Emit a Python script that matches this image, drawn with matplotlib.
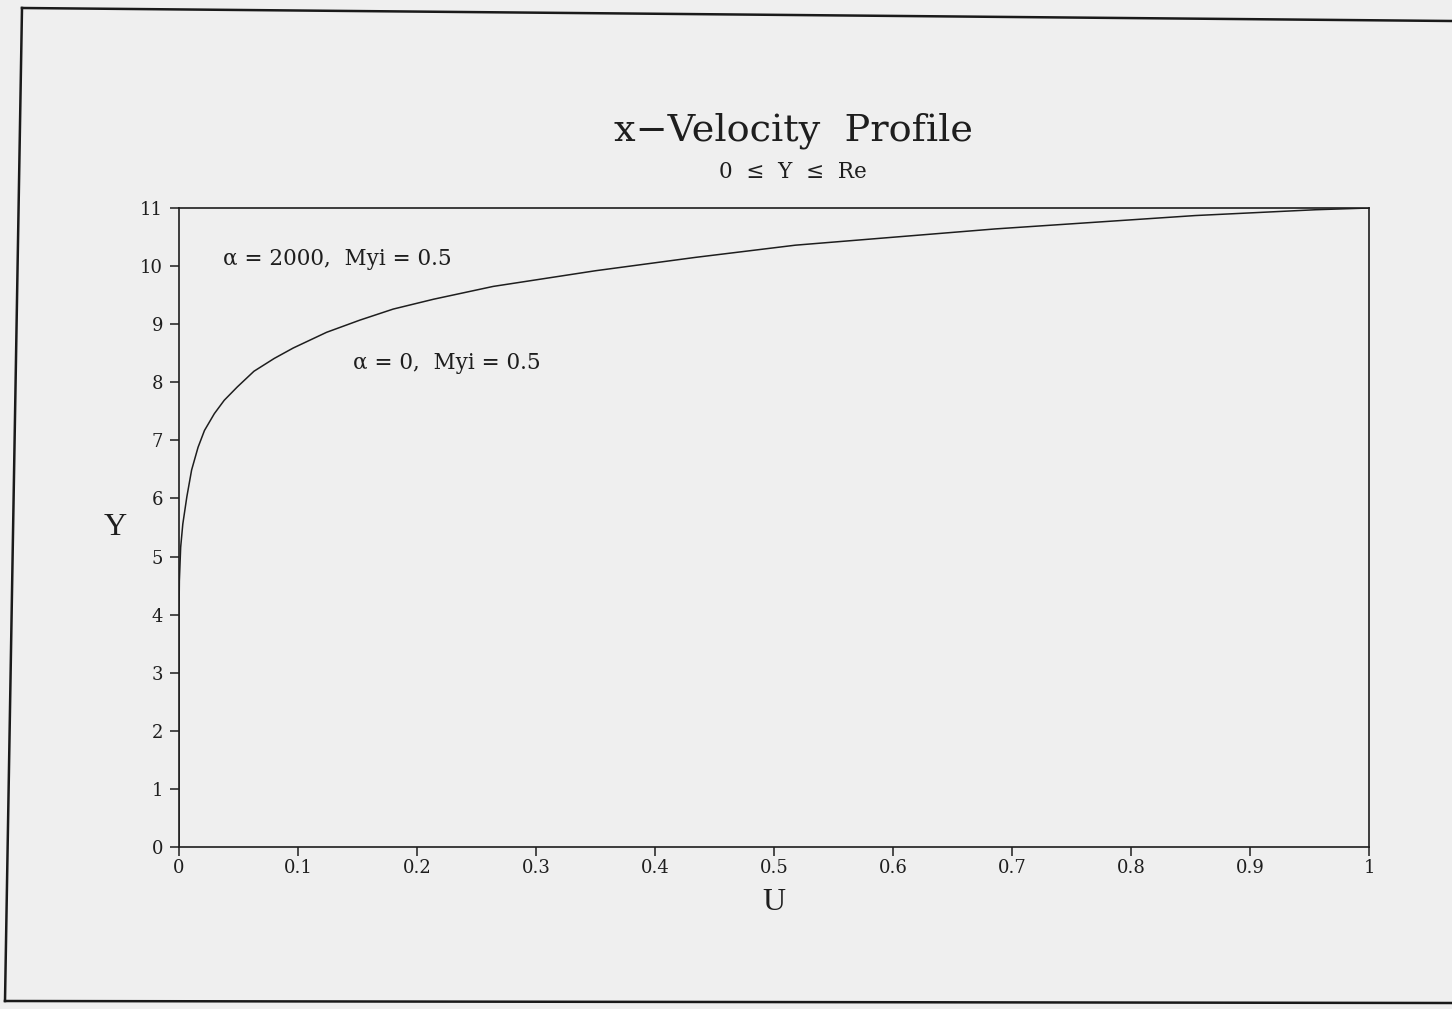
import numpy as np
import matplotlib.pyplot as plt
from matplotlib.lines import Line2D

# profil de vitesse u(y), lu point par point
U = [0.0, 0.0, 0.0003, 0.0014, 0.0032, 0.0066, 0.0106, 0.016, 0.0214, 0.0297,
     0.038, 0.049, 0.063, 0.080, 0.096, 0.124, 0.152, 0.18, 0.214, 0.264,
     0.35, 0.434, 0.518, 0.686, 0.854, 0.955, 1.0]
Y = [0.0, 4.0, 4.58, 5.16, 5.56, 6.03, 6.49, 6.88, 7.17, 7.46,
     7.69, 7.92, 8.19, 8.41, 8.59, 8.86, 9.07, 9.26, 9.43, 9.65,
     9.92, 10.15, 10.36, 10.64, 10.87, 10.97, 11.0]

xticks = [0, 0.1, 0.2, 0.3, 0.4, 0.5, 0.6, 0.7, 0.8, 0.9, 1]
xlabels = ["0", "0.1", "0.2", "0.3", "0.4", "0.5", "0.6", "0.7", "0.8", "0.9", "1"]
yticks = list(range(12))

fond = "#efefef"
encre = "#1e1e1e"
W, H = 1452, 1009

fig = plt.figure(figsize=(W / 100, H / 100), dpi=100, facecolor=fond)
ax = fig.add_axes([179 / W, 1 - 847 / H, (1369 - 179) / W, (847 - 208) / H])
ax.set_facecolor(fond)

ax.plot(U, Y, color=encre, lw=1.1, solid_joinstyle="round")

ax.set_xlim(0, 1)
ax.set_ylim(0, 11)
ax.set_xticks(xticks)
ax.set_xticklabels(xlabels)
ax.set_yticks(yticks)
for s in ax.spines.values():
    s.set_linewidth(1.2)
    s.set_color(encre)
ax.tick_params(axis="both", direction="out", length=6.5, width=1.1, color=encre,
               labelsize=13, labelcolor=encre)
ax.tick_params(axis="x", pad=2)
ax.tick_params(axis="y", pad=5)
for lab in ax.get_xticklabels() + ax.get_yticklabels():
    lab.set_family("DejaVu Serif")

ax.set_xlabel("U", family="Liberation Serif", fontsize=23, color=encre, labelpad=8)
ax.set_ylabel("Y", family="Liberation Serif", fontsize=23, color=encre,
              rotation=0, labelpad=18, va="center")

# légendes des courbes
ax.text(0.037, 10.12, "\u03b1 = 2000,  Myi = 0.5", family="DejaVu Serif", fontsize=15.5,
        color=encre, va="center")
ax.text(0.146, 8.33, "\u03b1 = 0,  Myi = 0.5", family="DejaVu Serif", fontsize=15.5,
        color=encre, va="center")

# titre
fig.text(793 / W, 1 - 131 / H, "x\u2212Velocity  Profile", family="DejaVu Serif",
         fontsize=27.5, color=encre, ha="center", va="center")
fig.text(793 / W, 1 - 172 / H, "0  \u2264  Y  \u2264  Re", family="DejaVu Serif",
         fontsize=15.5, color=encre, ha="center", va="center")

# cadre de la page
cadre = [((22, 8), (1452, 21)), ((22, 8), (5, 1001)), ((5, 1001), (1452, 1003))]
for (x1, y1), (x2, y2) in cadre:
    fig.add_artist(Line2D([x1 / W, x2 / W], [1 - y1 / H, 1 - y2 / H],
                          transform=fig.transFigure, color="#1a1a1a", lw=1.8))

fig.savefig("out.png", dpi=100, facecolor=fond)
